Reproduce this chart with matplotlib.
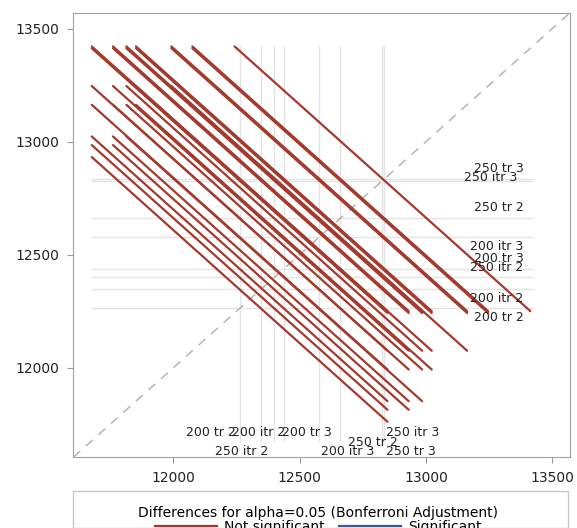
import itertools
import matplotlib
matplotlib.use("Agg")
import matplotlib.pyplot as plt
from matplotlib.lines import Line2D
from matplotlib.patches import Rectangle

plt.rcParams['font.family'] = ['DejaVu Sans']

# Medias por grupo
grupos = ["200 itr 2", "200 itr 3", "200 tr 2", "200 tr 3",
          "250 itr 2", "250 itr 3", "250 tr 2", "250 tr 3"]
medias = [12347, 12578, 12263, 12438, 12400, 12828, 12661, 12836]
semiancho = 585  # mitad de la extension horizontal de cada segmento (IC Bonferroni)

limites = [11605, 13570]
ticks = [12000, 12500, 13000, 13500]

ROJO = '#A23A2E'
AZUL = '#445694'

# desplazamientos de las etiquetas para que no se pisen (como lo hace SAS)
etiq_abajo = {"200 tr 2": (-113, 11713), "200 itr 2": (-7, 11713),
              "200 tr 3": (92, 11713), "250 itr 3": (118, 11713),
              "250 itr 2": (-129, 11629), "200 itr 3": (114, 11629),
              "250 tr 3": (104, 11629), "250 tr 2": (129, 11671)}
etiq_derecha = {"250 tr 3": (13386, 46), "250 itr 3": (13362, 14),
                "250 tr 2": (13386, 48), "200 itr 3": (13386, -41),
                "200 tr 3": (13386, 44), "250 itr 2": (13386, 45),
                "200 itr 2": (13386, -38), "200 tr 2": (13386, -40)}


def main():
    fig = plt.figure(figsize=(5.77, 5.28), dpi=100)
    ax = fig.add_axes([73.3 / 577, 1 - 457.3 / 528, (570 - 73.3) / 577, (457.3 - 12.7) / 528])

    lo = min(medias) - semiancho
    hi = max(medias) + semiancho

    # lineas de referencia
    for m in medias:
        ax.plot([m, m], [lo, hi], color='#E3E3E3', lw=1.0, zorder=1)
        ax.plot([lo, hi], [m, m], color='#E3E3E3', lw=1.0, zorder=1)

    # diagonal
    ax.plot(limites, limites, color='#B5B5B5', lw=1.1, ls=(0, (6, 5)), zorder=2)

    # segmentos de diferencias
    for i, j in itertools.combinations(range(len(medias)), 2):
        x0 = min(medias[i], medias[j])
        y0 = max(medias[i], medias[j])
        ax.plot([x0 - semiancho, x0 + semiancho], [y0 + semiancho, y0 - semiancho],
                color=ROJO, lw=1.6, solid_capstyle='round', zorder=3)

    # etiquetas
    for g, m in zip(grupos, medias):
        dx, yb = etiq_abajo[g]
        ax.text(m + dx, yb, g, ha='center', va='center', fontsize=9, color='#222222')
        xr, dy = etiq_derecha[g]
        ax.text(xr, m + dy, g, ha='right', va='center', fontsize=9, color='#222222')

    ax.set_xlim(limites)
    ax.set_ylim(limites)
    ax.set_xticks(ticks)
    ax.set_yticks(ticks)
    ax.tick_params(direction='out', length=4, color='#999999', labelsize=10,
                   labelcolor='#222222', pad=6)
    for s in ax.spines.values():
        s.set_color('#A0A0A0')

    # leyenda
    fig.patches.append(Rectangle((73.3 / 577, 0), (568 - 73.3) / 577, 1 - 490.7 / 528,
                                 transform=fig.transFigure, fill=False,
                                 edgecolor='#C8C8C8', lw=1.0))
    handles = [Line2D([], [], color=ROJO, lw=1.6), Line2D([], [], color=AZUL, lw=1.6)]
    fig.legend(handles, ["Not significant", "Significant"], ncol=2, frameon=False,
               title="Differences for alpha=0.05 (Bonferroni Adjustment)",
               title_fontsize=10, fontsize=10, loc='upper center',
               bbox_to_anchor=(318 / 577, 1 - 499 / 528), handlelength=4.5,
               columnspacing=1.0, handletextpad=0.5, borderpad=0, labelspacing=0)

    fig.savefig("out.png", dpi=100)


if __name__ == "__main__":
    main()
